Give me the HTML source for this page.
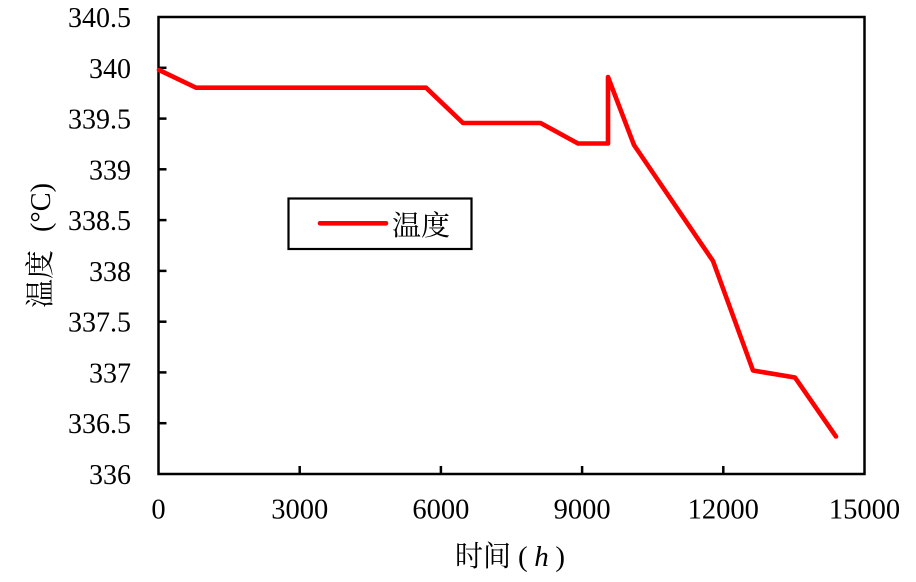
<!DOCTYPE html>
<html><head><meta charset="utf-8"><style>
html,body{margin:0;padding:0;background:#fff;}
svg{display:block;}
text{font-family:"Liberation Serif","Noto Serif CJK SC",serif;fill:#000;}
.cjk{font-family:"Liberation Serif","Noto Serif CJK SC","Noto Sans CJK SC",serif;}
</style></head><body>
<svg width="916" height="582" viewBox="0 0 916 582" xmlns="http://www.w3.org/2000/svg">
<rect width="916" height="582" fill="#fff"/>
<!-- frame -->
<rect x="158.5" y="17" width="706" height="457" fill="none" stroke="#000" stroke-width="2.5"/>
<!-- y ticks -->
<g stroke="#000" stroke-width="2.5">
<line x1="158.5" y1="67.8" x2="166.5" y2="67.8"/>
<line x1="158.5" y1="118.6" x2="166.5" y2="118.6"/>
<line x1="158.5" y1="169.3" x2="166.5" y2="169.3"/>
<line x1="158.5" y1="220.1" x2="166.5" y2="220.1"/>
<line x1="158.5" y1="270.9" x2="166.5" y2="270.9"/>
<line x1="158.5" y1="321.7" x2="166.5" y2="321.7"/>
<line x1="158.5" y1="372.4" x2="166.5" y2="372.4"/>
<line x1="158.5" y1="423.2" x2="166.5" y2="423.2"/>
<!-- x ticks -->
<line x1="299.7" y1="474" x2="299.7" y2="466"/>
<line x1="440.9" y1="474" x2="440.9" y2="466"/>
<line x1="582.1" y1="474" x2="582.1" y2="466"/>
<line x1="723.3" y1="474" x2="723.3" y2="466"/>
</g>
<!-- y labels -->
<g font-size="28" text-anchor="end">
<text x="131" y="27">340.5</text>
<text x="131" y="78">340</text>
<text x="131" y="128.6">339.5</text>
<text x="131" y="179.3">339</text>
<text x="131" y="230.1">338.5</text>
<text x="131" y="280.9">338</text>
<text x="131" y="331.7">337.5</text>
<text x="131" y="382.4">337</text>
<text x="131" y="433.2">336.5</text>
<text x="131" y="484">336</text>
</g>
<!-- x labels -->
<g font-size="28.5" text-anchor="middle">
<text x="158.5" y="518.5">0</text>
<text x="299.7" y="518.5">3000</text>
<text x="440.9" y="518.5">6000</text>
<text x="582.1" y="518.5">9000</text>
<text x="723.3" y="518.5">12000</text>
<text x="864.5" y="518.5">15000</text>
</g>
<!-- axis titles -->
<text class="cjk" x="455" y="566" font-size="29" textLength="56" lengthAdjust="spacingAndGlyphs">时间</text>
<text x="518" y="566" font-size="29" textLength="47" lengthAdjust="spacing">(<tspan font-style="italic">h</tspan>)</text>
<g transform="translate(50,308) rotate(-90)">
<text class="cjk" x="0" y="0" font-size="29" textLength="58" lengthAdjust="spacingAndGlyphs">温度</text>
<text x="76" y="0" font-size="29" textLength="49" lengthAdjust="spacingAndGlyphs">(°C)</text>
</g>
<!-- series -->
<polyline fill="none" stroke="#ff0000" stroke-width="4.6" stroke-linejoin="round" stroke-linecap="round"
points="159,70 196,87.7 426,87.7 463,123 540.5,123 578,143.5 608,143.5 608,77 634,145 713,261 753,370.5 795,377.5 836,436.5"/>
<!-- legend -->
<rect x="288.5" y="198.5" width="183" height="50.5" fill="#fff" stroke="#000" stroke-width="2.2"/>
<line x1="320" y1="223.3" x2="386" y2="223.3" stroke="#ff0000" stroke-width="4.6" stroke-linecap="round"/>
<text class="cjk" x="392" y="235" font-size="28" textLength="58" lengthAdjust="spacingAndGlyphs">温度</text>
</svg>
</body></html>
